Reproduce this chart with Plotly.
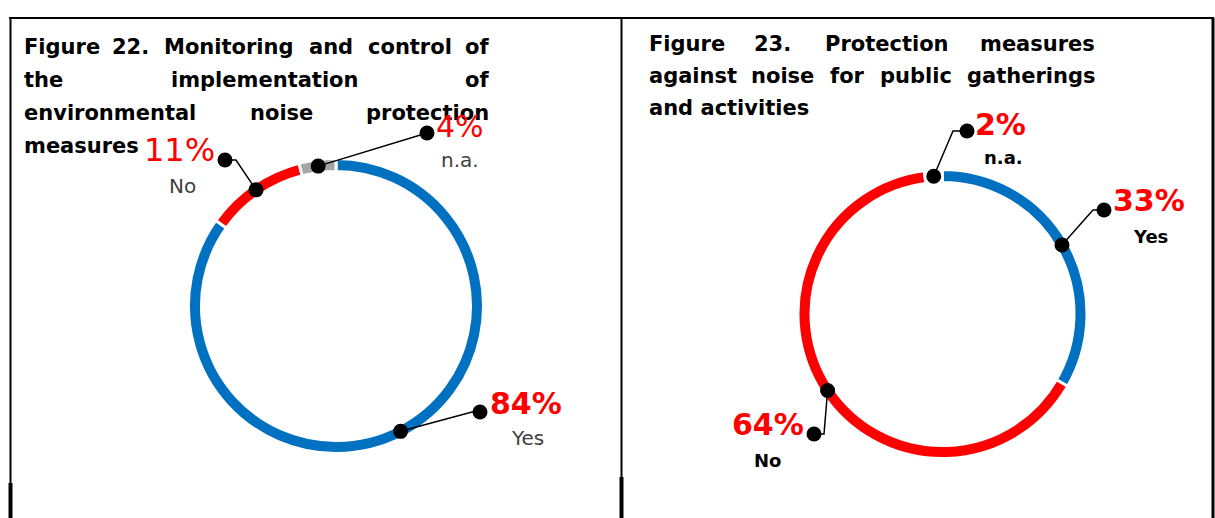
import math

import plotly.graph_objects as go

W, H = 1215, 518

categories = ["Yes", "No", "n.a."]
fig22_values = [84, 11, 4]
fig23_values = [33, 64, 2]

fig22_title = [
    ["Figure", "22.", "Monitoring", "and", "control", "of"],
    ["the", "implementation", "of"],
    ["environmental", "noise", "protection"],
    ["measures"],
]
fig23_title = [
    ["Figure", "23.", "Protection", "measures"],
    ["against", "noise", "for", "public", "gatherings"],
    ["and activities"],
]

BLUE, RED, GREY = "#0070C0", "#FF0000", "#A5A5A5"
FONT = "DejaVu Sans"

# ring geometry in page pixels: centre x, centre y, outer radius, hole
rings = {
    "22": {"cx": 336, "cy": 306, "R": 147.5, "hole": 0.912},
    "23": {"cx": 942.5, "cy": 314, "R": 144.5, "hole": 0.91},
}


def pie_domain(g):
    return {
        "x": [(g["cx"] - g["R"]) / W, (g["cx"] + g["R"]) / W],
        "y": [(H - g["cy"] - g["R"]) / H, (H - g["cy"] + g["R"]) / H],
    }


def slice_midpoints(values, g):
    """Pixel point on the ring centre line at the middle of each slice."""
    total = float(sum(values))
    r_mid = g["R"] * (1 + g["hole"]) / 2
    out, cum = [], 0.0
    for v in values:
        theta = 2 * math.pi * (cum + v / 2) / total
        out.append((g["cx"] + r_mid * math.sin(theta), g["cy"] - r_mid * math.cos(theta)))
        cum += v
    return out


fig = go.Figure()

for key, values, colors in [
    ("22", fig22_values, [BLUE, RED, GREY]),
    ("23", fig23_values, [BLUE, RED, "#FFFFFF"]),
]:
    fig.add_trace(
        go.Pie(
            values=values,
            labels=categories,
            sort=False,
            direction="clockwise",
            rotation=0,
            hole=rings[key]["hole"],
            marker={"colors": colors, "line": {"color": "white", "width": 3}},
            textinfo="none",
            hoverinfo="label+percent",
            domain=pie_domain(rings[key]),
            showlegend=False,
        )
    )

# callout end points (outer dot) and horizontal stub length toward the ring
callouts = {
    "22": [((480, 412), 8), ((225, 160), -11), ((427, 133), 0)],
    "23": [((1104, 210), 11), ((814, 434), -10), ((967, 131), 14)],
}

shapes = []
outer_x, outer_y = [], []
for key, values in [("22", fig22_values), ("23", fig23_values)]:
    mids = slice_midpoints(values, rings[key])
    for (px, py), ((ox, oy), stub) in zip(mids, callouts[key]):
        ex = ox - stub
        shapes.append(
            {
                "type": "path",
                "xref": "x",
                "yref": "y",
                "path": f"M {px},{py} L {ex},{oy} L {ox},{oy}",
                "line": {"color": "black", "width": 1.5},
                "layer": "above",
            }
        )
        shapes.append(
            {
                "type": "circle",
                "xref": "x",
                "yref": "y",
                "x0": px - 7.5,
                "x1": px + 7.5,
                "y0": py - 7.5,
                "y1": py + 7.5,
                "fillcolor": "black",
                "line": {"color": "black", "width": 0},
                "layer": "above",
            }
        )
        outer_x.append(ox)
        outer_y.append(oy)

fig.add_trace(
    go.Scatter(
        x=outer_x,
        y=outer_y,
        mode="markers",
        marker={"size": 15, "color": "black"},
        hoverinfo="skip",
        showlegend=False,
    )
)

# panel frame
frame = [
    ((9, 18), (1214, 18), 2),
    ((10.5, 18), (10.5, 518), 2),
    ((10.5, 483), (10.5, 518), 4),
    ((621.5, 18), (621.5, 518), 2),
    ((621.5, 477), (621.5, 518), 4),
    ((1213, 18), (1213, 518), 3),
]
for (x0, y0), (x1, y1), w in frame:
    shapes.append(
        {
            "type": "line",
            "xref": "x",
            "yref": "y",
            "x0": x0,
            "y0": y0,
            "x1": x1,
            "y1": y1,
            "line": {"color": "black", "width": w},
            "layer": "above",
        }
    )

annotations = []


def add_text(text, x, y, size, color="black", anchor="center", bold=False):
    annotations.append(
        {
            "text": f"<b>{text}</b>" if bold else text,
            "x": x,
            "y": y,
            "xref": "x",
            "yref": "y",
            "xanchor": anchor,
            "yanchor": "middle",
            "showarrow": False,
            "font": {"family": FONT, "size": size, "color": color},
        }
    )


# justified titles: first word left, last word right, middle words centred
title_layout = {
    "22": {"left": 22, "right": 491, "ys": [47, 80, 113, 146],
           "centres": [[130, 228.5, 330.5, 410], [264.5], [281], []]},
    "23": {"left": 647, "right": 1097, "ys": [44, 76, 108],
           "centres": [[772.5, 886.5], [782.5, 847, 916], []]},
}
for key, lines in [("22", fig22_title), ("23", fig23_title)]:
    tl = title_layout[key]
    for words, y, centres in zip(lines, tl["ys"], tl["centres"]):
        add_text(words[0], tl["left"], y, 21, anchor="left", bold=True)
        for word, cx in zip(words[1:-1], centres):
            add_text(word, cx, y, 21, bold=True)
        if len(words) > 1:
            add_text(words[-1], tl["right"], y, 21, anchor="right", bold=True)

# percentage and category labels
pct22 = [f"{v}%" for v in fig22_values]
pct23 = [f"{v}%" for v in fig23_values]

add_text(pct22[0], 488, 403, 30, RED, "left", bold=True)
add_text(categories[0], 527, 438, 20, "#404040")
add_text(pct22[1], 217, 150, 32, RED, "right")
add_text(categories[1], 182, 186, 20, "#404040")
add_text(pct22[2], 434, 126, 30, RED, "left")
add_text(categories[2], 460, 160, 20, "#404040")

add_text(pct23[0], 1111, 200, 30, RED, "left", bold=True)
add_text(categories[0], 1150, 236, 18, bold=True)
add_text(pct23[1], 806, 424, 30, RED, "right", bold=True)
add_text(categories[1], 767, 460, 18, bold=True)
add_text(pct23[2], 973, 124, 30, RED, "left", bold=True)
add_text(categories[2], 1003, 157, 18, bold=True)

fig.update_layout(
    width=W,
    height=H,
    autosize=False,
    margin={"l": 0, "r": 0, "t": 0, "b": 0},
    paper_bgcolor="white",
    plot_bgcolor="white",
    xaxis={"range": [0, W], "visible": False, "fixedrange": True},
    yaxis={"range": [H, 0], "visible": False, "fixedrange": True},
    shapes=shapes,
    annotations=annotations,
    font={"family": FONT},
)

fig.write_html(
    "out.html",
    config={"displayModeBar": False},
    post_script="document.body.style.margin = '0px';",
)
